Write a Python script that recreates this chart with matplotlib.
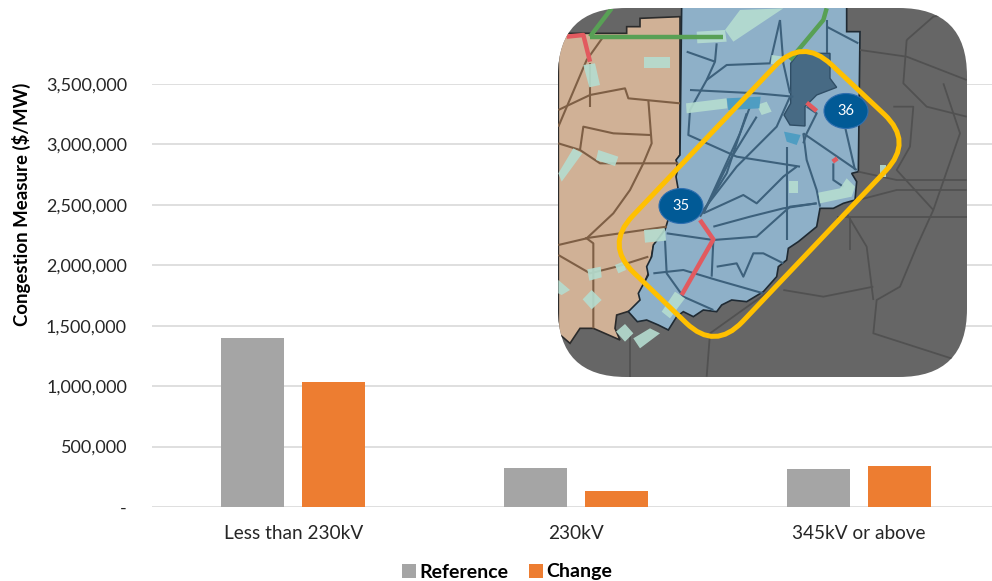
import matplotlib
matplotlib.use("Agg")
import matplotlib.pyplot as plt
import numpy as np
from matplotlib.patches import Ellipse, FancyBboxPatch, PathPatch, Polygon
from matplotlib.path import Path

plt.rcParams["font.family"] = ["Lato", "DejaVu Sans"]

# chart data
categories = ["Less than 230kV", "230kV", "345kV or above"]
reference = [1400000, 320000, 315000]
change = [1035000, 130000, 340000]
y_ticks = [0, 500000, 1000000, 1500000, 2000000, 2500000, 3000000, 3500000]

# map shapes, in pixels of a 3x crop whose corner is at (550, 0)
illinois = [(25, 100), (230, 100), (230, 80), (270, 80), (270, 55), (390, 50), (390, 465), (380, 480),
            (385, 560), (350, 680), (310, 740), (295, 820), (270, 880), (280, 920), (200, 945),
            (195, 985), (210, 1020), (130, 985), (90, 985), (60, 1030), (25, 1000)]
indiana = [(395, 20), (890, 20), (890, 95), (930, 95), (925, 515), (905, 520), (920, 545), (915, 600),
           (880, 610), (850, 625), (810, 625), (800, 680), (745, 725), (715, 745), (710, 780), (685, 800),
           (680, 830), (640, 875), (590, 905), (545, 900), (515, 915), (500, 935), (460, 930), (430, 950),
           (400, 935), (380, 950), (355, 990), (325, 975), (290, 960), (262, 965), (235, 935), (270, 900),
           (265, 880), (295, 825), (290, 800), (305, 770), (310, 735), (345, 690), (360, 640), (385, 570),
           (378, 530), (385, 500), (378, 480), (390, 465)]
metro = [(722, 190), (745, 160), (840, 160), (840, 235), (860, 262), (800, 285), (765, 320), (765, 378),
         (720, 375), (702, 345), (722, 310)]
gold_box = [(757, 112), (1090, 425), (495, 1052), (165, 735)]
brown_lines = [
    [(25, 380), (110, 180), (160, 110)],
    [(120, 320), (120, 190)],
    [(25, 330), (120, 285), (225, 265), (235, 295), (390, 310)],
    [(295, 300), (305, 430), (280, 490), (240, 570), (190, 640), (110, 715), (25, 735)],
    [(25, 430), (90, 450), (100, 380), (190, 400), (300, 405)],
    [(90, 450), (150, 490), (280, 490), (385, 490)],
    [(110, 715), (130, 730), (130, 985)],
    [(25, 765), (120, 820), (200, 800), (295, 770)],
    [(105, 715), (350, 680)],
]
blue_lines = [
    [(410, 155), (495, 185), (470, 240), (420, 330), (415, 405), (560, 470), (750, 500)],
    [(495, 185), (500, 130)],
    [(470, 240), (530, 195), (660, 190), (690, 60)],
    [(690, 60), (700, 190), (720, 280)],
    [(420, 270), (620, 280), (730, 290)],
    [(460, 640), (540, 480), (620, 350)],
    [(460, 640), (570, 400), (600, 320)],
    [(450, 650), (530, 520), (590, 340)],
    [(460, 630), (560, 500), (680, 380), (720, 290)],
    [(460, 640), (580, 585), (620, 610), (700, 530), (740, 500)],
    [(490, 680), (600, 650), (700, 625), (800, 610)],
    [(350, 700), (490, 720), (620, 710), (720, 620), (800, 610)],
    [(710, 440), (710, 720)],
    [(760, 400), (770, 480), (800, 570), (810, 620)],
    [(760, 400), (920, 510)],
    [(885, 380), (915, 510)],
    [(850, 490), (850, 540), (880, 560)],
    [(345, 720), (350, 820), (400, 890), (490, 930)],
    [(310, 820), (400, 810), (500, 840), (640, 880)],
    [(490, 720), (485, 830)],
    [(500, 800), (560, 790), (580, 830), (610, 760), (640, 760), (700, 790)],
    [(770, 320), (800, 340), (770, 400), (760, 430)],
    [(830, 60), (830, 160)],
    [(830, 80), (925, 130)],
]
grey_lines = [
    [(930, 150), (1070, 170), (1250, 240)],
    [(1070, 120), (1150, 50), (1250, 30)],
    [(1070, 120), (1060, 250), (1130, 320), (1250, 350)],
    [(1030, 320), (1090, 320), (1080, 440), (1040, 510), (1150, 630)],
    [(925, 515), (1040, 540), (1250, 540)],
    [(925, 600), (1040, 570), (1250, 570)],
    [(1180, 250), (1230, 400), (1150, 630), (1100, 740), (1050, 860), (980, 900), (970, 1000), (1250, 1090)],
    [(860, 650), (1130, 650), (1250, 650)],
    [(890, 640), (950, 740), (970, 900)],
    [(700, 870), (820, 890), (970, 860)],
    [(240, 1000), (240, 1130)],
    [(470, 1130), (480, 1000), (690, 850)],
    [(900, 650), (900, 750)],
]
red_lines = [
    [(50, 110), (100, 105), (120, 185)],
    [(450, 660), (490, 718), (395, 885)],
    [(770, 308), (800, 333)],
    [(848, 485), (862, 475)],
]
green_lines = [
    [(120, 110), (520, 110)],
    [(120, 110), (185, 25)],
    [(720, 180), (820, 60), (830, 25)],
]
pale_boxes = [
    [(282, 170), (360, 170), (360, 205), (282, 205)],
    [(100, 195), (135, 190), (150, 255), (118, 262)],
    [(25, 520), (70, 445), (97, 460), (35, 545)],
    [(145, 450), (205, 470), (195, 498), (138, 480)],
    [(282, 690), (345, 685), (348, 722), (285, 728)],
    [(112, 808), (152, 800), (155, 832), (118, 842)],
    [(195, 795), (220, 785), (228, 810), (205, 820)],
    [(25, 840), (60, 870), (35, 885), (25, 880)],
    [(125, 870), (155, 900), (125, 928), (98, 898)],
    [(225, 972), (250, 1000), (225, 1025), (198, 995)],
    [(250, 1015), (300, 985), (330, 1000), (270, 1045)],
    [(335, 935), (375, 875), (405, 895), (360, 955)],
    [(440, 95), (525, 90), (530, 125), (442, 130)],
    [(525, 90), (570, 30), (700, 25), (550, 125)],
    [(408, 310), (530, 295), (532, 325), (410, 340)],
    [(620, 315), (650, 305), (665, 335), (635, 345)],
    [(665, 165), (700, 170), (690, 195), (662, 192)],
    [(718, 542), (745, 542), (745, 578), (718, 578)],
    [(805, 578), (870, 565), (890, 535), (915, 560), (905, 590), (810, 610)],
    [(990, 495), (1008, 495), (1008, 530), (990, 530)],
]
cyan_boxes = [
    [(530, 295), (632, 290), (628, 325), (535, 330)],
    [(702, 395), (752, 405), (740, 435), (710, 425)],
]

fig = plt.figure(figsize=(9.92, 5.81), dpi=100)
ax = fig.add_axes([152 / 992, 1 - 507 / 581, 848 / 992, (507 - 84) / 581])

x = np.arange(len(categories))
bar_w = 63 / 283
ax.bar(x - 40.5 / 283, reference, bar_w, color="#A5A5A5", label="Reference", zorder=2)
ax.bar(x + 40.5 / 283, change, bar_w, color="#ED7D31", label="Change", zorder=2)

ax.set_xlim(-0.5, 2.5)
ax.set_ylim(0, 3500000)
ax.set_xticks(x)
ax.set_xticklabels(categories, fontsize=13.7, color="#262626")
ax.set_yticks(y_ticks)
ax.set_yticklabels([f"{v:,}" if v else "-" for v in y_ticks], fontsize=13, color="#262626")
ax.tick_params(length=0)
ax.tick_params(axis="x", pad=13)
ax.tick_params(axis="y", pad=18)
ax.grid(axis="y", color="#D9D9D9", linewidth=1.2, zorder=0)
for side in ax.spines:
    ax.spines[side].set_visible(False)
ax.set_axisbelow(True)
fig.text(21 / 992, 1 - 204 / 581, "Congestion Measure ($/MW)", rotation=90, fontsize=13.4,
         fontweight="bold", ha="center", va="center", color="black")
fig.legend(loc="center left", bbox_to_anchor=(402 / 992, 1 - 572 / 581), ncol=2, frameon=False,
           handlelength=0.72, handleheight=0.72, handletextpad=0.15, columnspacing=1.1,
           borderpad=0, borderaxespad=0, prop={"weight": "bold", "size": 14})

# inset map, drawn in image pixels
mp = fig.add_axes([0, 0, 1, 1], facecolor="none")
mp.set_xlim(0, 992)
mp.set_ylim(581, 0)
mp.axis("off")


def to_px(points):
    pts = np.asarray(points, dtype=float)
    return pts / 3 + [550, 0]


def rounded_path(points, r):
    pts = to_px(points)
    verts, codes = [], []
    n = len(pts)
    for i in range(n):
        p, prev, nxt = pts[i], pts[i - 1], pts[(i + 1) % n]
        a = p + (prev - p) / np.linalg.norm(prev - p) * r
        b = p + (nxt - p) / np.linalg.norm(nxt - p) * r
        verts += [a, p, b]
        codes += [Path.MOVETO if i == 0 else Path.LINETO, Path.CURVE3, Path.CURVE3]
    verts.append(verts[0])
    codes.append(Path.CLOSEPOLY)
    return Path(verts, codes)


frame = FancyBboxPatch((558 + 68, 8 + 68), 409 - 136, 369 - 136, boxstyle="round,pad=68,rounding_size=68",
                       facecolor="#666666", edgecolor="none", zorder=1)
mp.add_patch(frame)
shapes = [
    Polygon(to_px(illinois), facecolor="#D0B196", edgecolor="#2B2B2B", linewidth=1.2, zorder=2),
    Polygon(to_px(indiana), facecolor="#8EB0C8", edgecolor="#1F2A33", linewidth=1.2, zorder=2),
    Polygon(to_px(metro), facecolor="#476A84", edgecolor="#2F4E66", linewidth=1, zorder=3),
]
for s in shapes:
    mp.add_patch(s)
    s.set_clip_path(frame)


def draw_lines(groups, color, width, z):
    for g in groups:
        pts = to_px(g)
        line, = mp.plot(pts[:, 0], pts[:, 1], color=color, linewidth=width, zorder=z, solid_capstyle="butt",
                        solid_joinstyle="round")
        line.set_clip_path(frame)


draw_lines(grey_lines, "#515151", 1.3, 3)
draw_lines(brown_lines, "#7E5F45", 1.5, 3)
draw_lines(blue_lines, "#3D617C", 1.5, 3)
for box in pale_boxes:
    p = Polygon(to_px(box), facecolor="#B5DDD0", edgecolor="none", alpha=0.9, zorder=4)
    mp.add_patch(p)
    p.set_clip_path(frame)
for box in cyan_boxes:
    p = Polygon(to_px(box), facecolor="#4F9DC2", edgecolor="none", zorder=4)
    mp.add_patch(p)
draw_lines(green_lines, "#58A055", 3.2, 5)
draw_lines(red_lines, "#E25A5F", 3.2, 5)

mp.add_patch(PathPatch(rounded_path(gold_box, 40), facecolor="none", edgecolor="#FFC000", linewidth=3.6, zorder=6))
for label, cx, cy in [("35", 681, 206), ("36", 846, 111)]:
    mp.add_patch(Ellipse((cx, cy), 44, 35, facecolor="#015A96", edgecolor="#2F6FB0", linewidth=0.8, zorder=7))
    mp.text(cx, cy, label, color="white", fontsize=10.5, ha="center", va="center", zorder=8)

fig.savefig("out.png", dpi=100)
